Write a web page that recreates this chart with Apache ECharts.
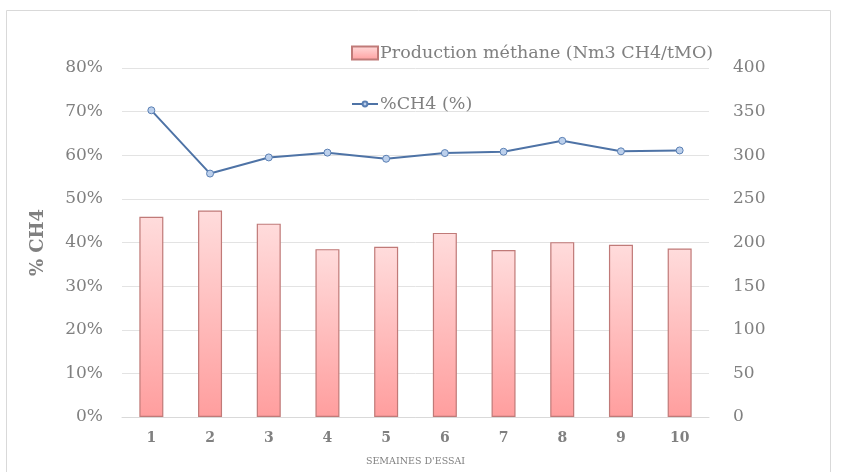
<!DOCTYPE html>
<html>
<head>
<meta charset="utf-8">
<script src="https://cdn.jsdelivr.net/npm/echarts@6/dist/echarts.min.js"></script>
<style>
  html, body { margin: 0; padding: 0; background: #fff; }
  #chart { width: 842px; height: 472px; }
</style>
</head>
<body>
<div id="chart"></div>
<script>
// Weeks of the trial
const weeks = ['1', '2', '3', '4', '5', '6', '7', '8', '9', '10'];
// Methane production (Nm3 CH4 / tMO), right axis
const production = [229.5, 236.7, 221.6, 192.4, 195, 211, 191.3, 200.4, 197.3, 193.2];
// Methane share in biogas (%), left axis
const ch4Percent = [70.3, 55.8, 59.5, 60.6, 59.2, 60.5, 60.8, 63.3, 60.9, 61.1];

const barName = 'Production méthane (Nm3 CH4/tMO)';
const lineName = '%CH4 (%)';
const serif = '"DejaVu Serif", "Liberation Serif", serif';
const grey = '#808080';
const legendText = { fontFamily: serif, fontSize: 17.5, color: grey, padding: [0, 0, 0, -3] };

const chart = echarts.init(document.getElementById('chart'));
chart.setOption({
  animation: false,
  graphic: [{
    type: 'rect',
    shape: { x: 6.5, y: 10.5, width: 824, height: 480 },
    style: { fill: 'none', stroke: '#d9d9d9', lineWidth: 1 },
    silent: true
  }],
  legend: [{
    left: 346,
    top: 39,
    itemWidth: 26,
    itemHeight: 13,
    textStyle: legendText,
    data: [{ name: barName, icon: 'rect' }]
  }, {
    left: 346,
    top: 90,
    itemWidth: 26,
    itemHeight: 6,
    textStyle: legendText,
    data: [{ name: lineName }]
  }],
  grid: { left: 122, right: 133, top: 68, bottom: 49, containLabel: false },
  xAxis: {
    type: 'category',
    data: weeks,
    name: "SEMAINES D'ESSAI",
    nameLocation: 'middle',
    nameGap: 40,
    nameTextStyle: { fontFamily: serif, fontSize: 9.5, color: grey },
    axisLine: { lineStyle: { color: '#d9d9d9' } },
    axisTick: { show: false },
    axisLabel: { fontFamily: serif, fontSize: 14, fontWeight: 'bold', color: grey, margin: 14 }
  },
  yAxis: [{
    type: 'value',
    min: 0, max: 80, interval: 10,
    name: '% CH4',
    nameLocation: 'middle',
    nameGap: 75,
    nameRotate: 90,
    nameTextStyle: { fontFamily: serif, fontSize: 18, fontWeight: 'bold', color: grey },
    axisLabel: { formatter: '{value}%', fontFamily: serif, fontSize: 17, color: grey, margin: 19 },
    axisLine: { show: false },
    axisTick: { show: false },
    splitLine: { lineStyle: { color: '#e3e3e3' } }
  }, {
    type: 'value',
    min: 0, max: 400, interval: 50,
    axisLabel: { fontFamily: serif, fontSize: 17, color: grey, margin: 24 },
    axisLine: { show: false },
    axisTick: { show: false },
    splitLine: { show: false }
  }],
  series: [{
    name: barName,
    type: 'bar',
    yAxisIndex: 1,
    data: production,
    barWidth: 24,
    itemStyle: {
      color: new echarts.graphic.LinearGradient(0, 0, 0, 1, [
        { offset: 0, color: '#ffdcdc' },
        { offset: 1, color: '#ff9e9e' }
      ]),
      borderColor: '#c07a78',
      borderWidth: 1.2
    }
  }, {
    name: lineName,
    type: 'line',
    yAxisIndex: 0,
    data: ch4Percent,
    symbol: 'circle',
    symbolSize: 7,
    lineStyle: { color: '#4e73a6', width: 2 },
    itemStyle: { color: '#bcd0ec', borderColor: '#5a7fb3', borderWidth: 1 }
  }]
});
</script>
</body>
</html>
